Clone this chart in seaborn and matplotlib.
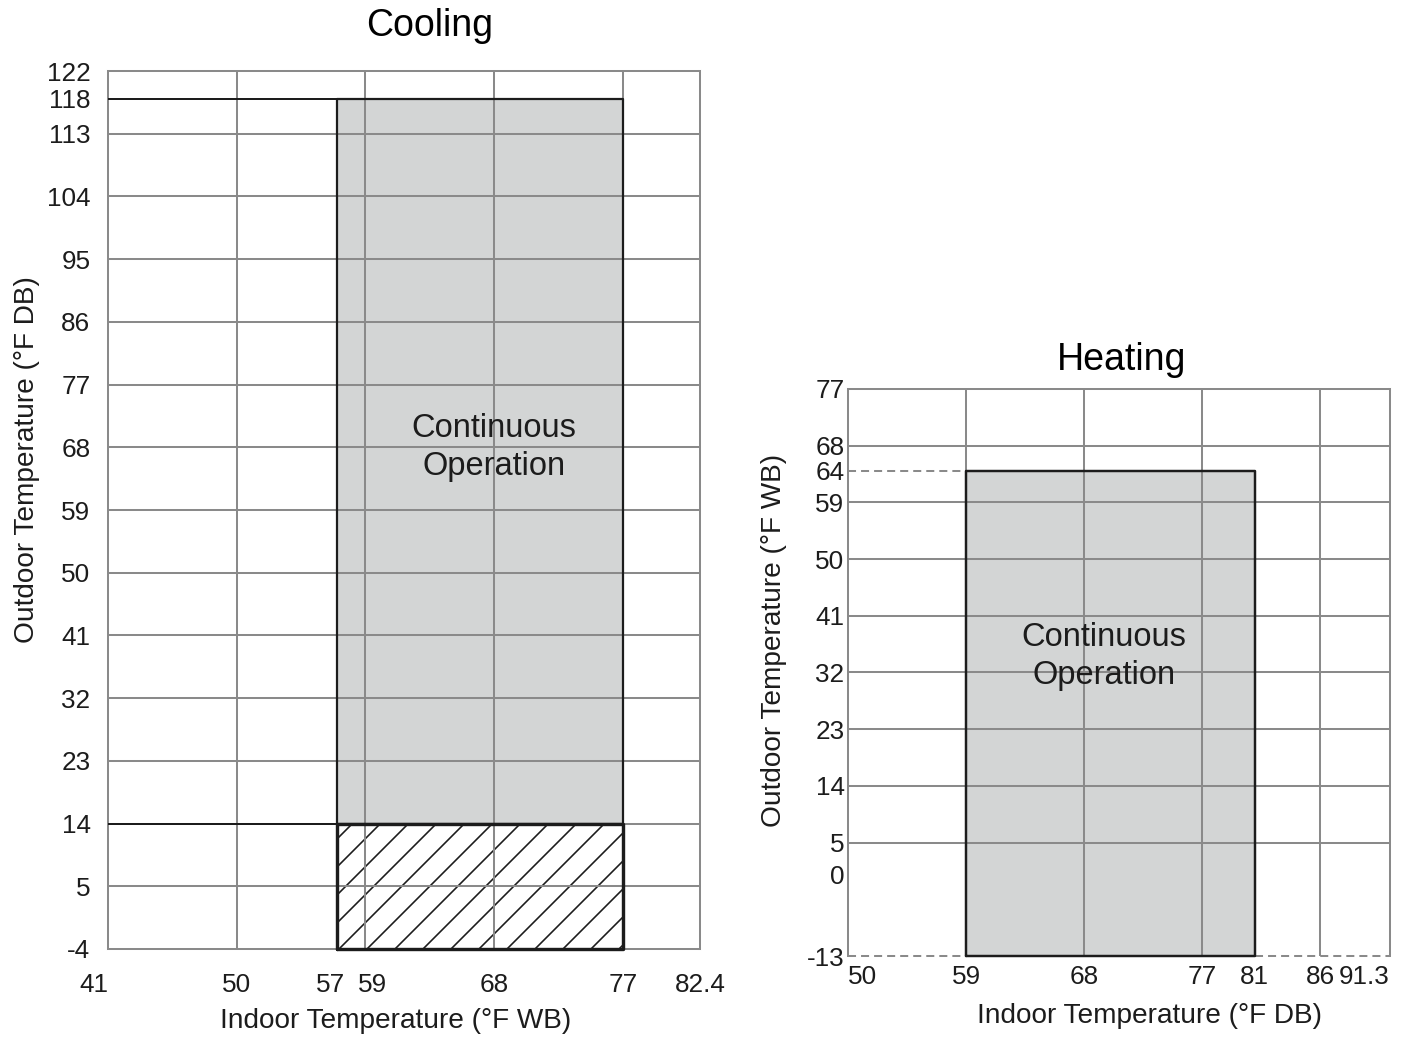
import matplotlib
matplotlib.use("Agg")
import matplotlib.pyplot as plt
import matplotlib.transforms as mtransforms
import seaborn as sns

# Cooling operating range: indoor wet bulb (°F WB) vs outdoor dry bulb (°F DB)
cool_x_ticks = [41, 50, 57, 59, 68, 77, 82.4]
cool_y_ticks = [-4, 5, 14, 23, 32, 41, 50, 59, 68, 77, 86, 95, 104, 113, 118, 122]
cool_x_grid = [50, 59, 68, 77]
cool_y_grid = [5, 14, 23, 32, 41, 50, 59, 68, 77, 86, 95, 104, 113]
cool_indoor = [57, 77]
cool_outdoor_cont = [14, 118]
cool_outdoor_hatch = [-4, 14]

# Heating operating range: indoor dry bulb (°F DB) vs outdoor wet bulb (°F WB)
heat_x_ticks = [50, 59, 68, 77, 81, 86, 91.3]
heat_y_ticks = [-13, 0, 5, 14, 23, 32, 41, 50, 59, 64, 68, 77]
heat_x_grid = [59, 68, 77, 86]
heat_y_grid = [5, 14, 23, 32, 41, 50, 59, 68]
heat_indoor = [59, 81]
heat_outdoor = [-13, 64]

DPI = 168
GRID = "#8a8a8a"
FILL = "#d3d5d5"
INK = "#1c1c1c"
TICK_FS = 11.2
LABEL_FS = 12
NOTE_FS = 14.0

sns.set_theme(style="white")
plt.rcParams["font.family"] = ["Liberation Sans", "DejaVu Sans"]
plt.rcParams["hatch.linewidth"] = 0.7
plt.rcParams["hatch.color"] = INK

fig = plt.figure(figsize=(1420 / DPI, 1041 / DPI), dpi=DPI)
fig.patch.set_facecolor("white")
axc = fig.add_axes([108 / 1420, 1 - 949 / 1041, 592 / 1420, 878 / 1041])
axh = fig.add_axes([848 / 1420, 1 - 956 / 1041, 542 / 1420, 567 / 1041])


def style_axes(ax):
    ax.set_facecolor("white")
    for sp in ax.spines.values():
        sp.set_color(GRID)
        sp.set_linewidth(0.86)
        sp.set_zorder(2)
    ax.tick_params(axis="both", which="both", length=0, labelsize=TICK_FS,
                   labelcolor=INK)


def box(ax, xs, ys, lw, zorder=4):
    x0, x1 = xs
    y0, y1 = ys
    sns.lineplot(x=[x0, x0, x1, x1, x0], y=[y0, y1, y1, y0, y0], sort=False,
                 estimator=None, color=INK, linewidth=lw, ax=ax,
                 zorder=zorder, clip_on=False)


# ---------------- Cooling ----------------
style_axes(axc)
axc.set_xlim(cool_x_ticks[0], cool_x_ticks[-1])
axc.set_ylim(cool_y_ticks[0], cool_y_ticks[-1])
for gx in cool_x_grid:
    axc.axvline(gx, color=GRID, lw=0.86, zorder=2)
for gy in cool_y_grid:
    axc.axhline(gy, color=GRID, lw=0.86, zorder=2)

axc.fill_between(cool_indoor, cool_outdoor_cont[0], cool_outdoor_cont[1],
                 color=FILL, lw=0, zorder=1)
axc.fill_between(cool_indoor, cool_outdoor_hatch[0], cool_outdoor_hatch[1],
                 facecolor="white", edgecolor=INK, hatch="//", lw=0, zorder=1)
box(axc, cool_indoor, cool_outdoor_cont, 0.95)
box(axc, cool_indoor, cool_outdoor_hatch, 1.45, zorder=5)
# limits extended to the left edge of the chart
for yv in (cool_outdoor_cont[1], cool_outdoor_cont[0]):
    axc.plot([cool_x_ticks[0], cool_indoor[0]], [yv, yv], color=INK,
             lw=0.85, zorder=4)

axc.set_xticks(cool_x_ticks)
axc.set_xticklabels([f"{v:g}" for v in cool_x_ticks])
axc.set_yticks(cool_y_ticks)
axc.set_yticklabels([f"{v:g}" for v in cool_y_ticks])
axc.tick_params(axis="y", pad=7.5)
axc.tick_params(axis="x", pad=10.5)
xl = axc.get_xticklabels()
xl[0].set_ha("right")
for lbl, dx in ((xl[2], -6), (xl[3], 7)):
    lbl.set_transform(lbl.get_transform() + mtransforms.ScaledTranslation(
        dx / DPI, 0, fig.dpi_scale_trans))

axc.text(68, 68, "Continuous\nOperation", ha="center", va="center",
         fontsize=NOTE_FS, color=INK, multialignment="center",
         linespacing=1.3, zorder=6)
axc.set_title("Cooling", fontsize=16.1, pad=15, x=0.544, color="black")
axc.set_xlabel("Indoor Temperature (°F WB)", fontsize=LABEL_FS, color=INK)
axc.set_ylabel("Outdoor Temperature (°F DB)", fontsize=LABEL_FS, color=INK)
axc.xaxis.set_label_coords(0.486, -0.067)
axc.yaxis.set_label_coords(-0.115, 0.557)

# ---------------- Heating ----------------
style_axes(axh)
axh.spines["bottom"].set_visible(False)
axh.set_xlim(heat_x_ticks[0], heat_x_ticks[-1])
axh.set_ylim(heat_y_ticks[0], heat_y_ticks[-1])
for gx in heat_x_grid:
    axh.axvline(gx, color=GRID, lw=0.86, zorder=2)
for gy in heat_y_grid:
    axh.axhline(gy, color=GRID, lw=0.86, zorder=2)

axh.fill_between(heat_indoor, heat_outdoor[0], heat_outdoor[1],
                 color=FILL, lw=0, zorder=1)
box(axh, heat_indoor, heat_outdoor, 1.05)
dash = dict(color=GRID, lw=0.86, dashes=(4, 2.5), zorder=3, clip_on=False)
axh.plot([heat_x_ticks[0], heat_indoor[0]], [heat_outdoor[1]] * 2, **dash)
axh.plot([heat_x_ticks[0], heat_indoor[0]], [heat_outdoor[0]] * 2, **dash)
axh.plot([heat_indoor[1], heat_x_ticks[-1]], [heat_outdoor[0]] * 2, **dash)

axh.set_xticks(heat_x_ticks)
axh.set_xticklabels([f"{v:g}" for v in heat_x_ticks])
axh.set_yticks(heat_y_ticks)
axh.set_yticklabels([f"{v:g}" for v in heat_y_ticks])
axh.tick_params(axis="y", pad=1.5)
axh.tick_params(axis="x", pad=4)
hl = axh.get_xticklabels()
hl[0].set_ha("left")
hl[-1].set_ha("right")

axh.text(69.5, 34.5, "Continuous\nOperation", ha="center", va="center",
         fontsize=NOTE_FS, color=INK, multialignment="center",
         linespacing=1.3, zorder=6)
axh.set_title("Heating", fontsize=16.1, pad=8, x=0.5055, color="black")
axh.set_xlabel("Indoor Temperature (°F DB)", fontsize=LABEL_FS, color=INK)
axh.set_ylabel("Outdoor Temperature (°F WB)", fontsize=LABEL_FS, color=INK)
axh.xaxis.set_label_coords(0.557, -0.083)
axh.yaxis.set_label_coords(-0.1125, 0.557)

fig.savefig("out.png", dpi=DPI, facecolor="white")
